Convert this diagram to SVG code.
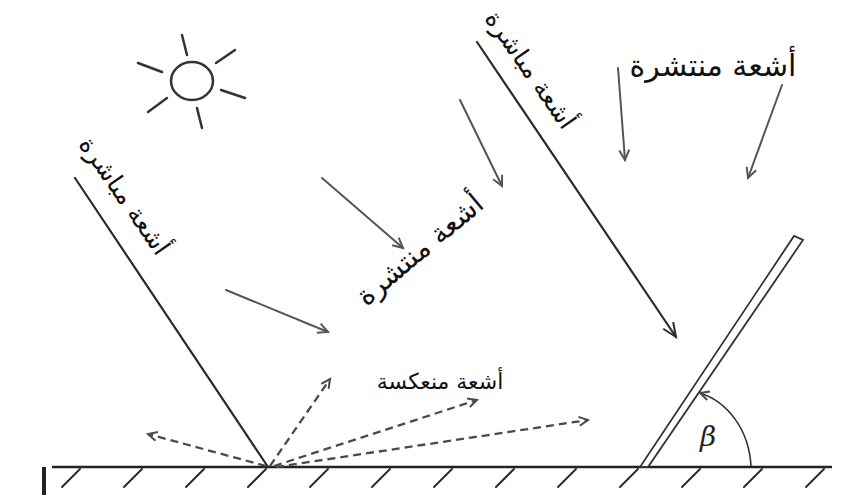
<svg xmlns="http://www.w3.org/2000/svg" width="856" height="501" viewBox="0 0 856 501">
  <style>
    .ln { stroke: #2b2b2b; stroke-width: 2.2; fill: none; stroke-linecap: round; }
    .df { stroke: #555; stroke-width: 2; fill: none; stroke-linecap: round; }
    .ds { stroke: #4a4a4a; stroke-width: 2.3; fill: none; stroke-dasharray: 8 5; }
    .hat { stroke: #2b2b2b; stroke-width: 2; stroke-linecap: round; }
    .lbl { font-family: "DejaVu Sans", "Noto Sans", sans-serif; fill: #111; text-anchor: middle; }
  </style>
  <defs>
    <marker id="arrBig" markerUnits="userSpaceOnUse" markerWidth="18" markerHeight="14" refX="15" refY="7" orient="auto">
      <path d="M1,1 L15,7 L1,13" fill="none" stroke="#2b2b2b" stroke-width="2"/>
    </marker>
    <marker id="arrMid" markerUnits="userSpaceOnUse" markerWidth="14" markerHeight="12" refX="11" refY="6" orient="auto">
      <path d="M1,1 L11,6 L1,11" fill="none" stroke="#555" stroke-width="2"/>
    </marker>
    <marker id="arrSm" markerUnits="userSpaceOnUse" markerWidth="13" markerHeight="11" refX="10" refY="5.5" orient="auto">
      <path d="M1,1 L10,5.5 L1,10" fill="none" stroke="#4a4a4a" stroke-width="2"/>
    </marker>
  </defs>
  <rect width="856" height="501" fill="#fff"/>

  <!-- sun -->
  <g id="sun" stroke="#333" stroke-width="2.5" fill="none" stroke-linecap="round">
    <ellipse cx="192" cy="81" rx="21" ry="19"/>
    <line x1="182" y1="35" x2="187" y2="55"/>
    <line x1="235" y1="50" x2="216" y2="63"/>
    <line x1="221" y1="90" x2="245" y2="98"/>
    <line x1="197" y1="108" x2="202" y2="128"/>
    <line x1="167" y1="98" x2="148" y2="112"/>
    <line x1="138" y1="63" x2="162" y2="72"/>
  </g>

  <!-- ground with hatching -->
  <g id="ground">
    <line x1="52" y1="467" x2="832" y2="467" stroke="#222" stroke-width="2.5"/>
    <line x1="44" y1="467" x2="44" y2="495" stroke="#222" stroke-width="4"/>
    <g class="hat">
      <line x1="80" y1="469" x2="62" y2="487"/>
      <line x1="142" y1="469" x2="124" y2="487"/>
      <line x1="204" y1="469" x2="186" y2="487"/>
      <line x1="266" y1="469" x2="248" y2="487"/>
      <line x1="328" y1="469" x2="310" y2="487"/>
      <line x1="390" y1="469" x2="372" y2="487"/>
      <line x1="452" y1="469" x2="434" y2="487"/>
      <line x1="514" y1="469" x2="496" y2="487"/>
      <line x1="576" y1="469" x2="558" y2="487"/>
      <line x1="638" y1="469" x2="620" y2="487"/>
      <line x1="700" y1="469" x2="682" y2="487"/>
      <line x1="762" y1="469" x2="744" y2="487"/>
      <line x1="824" y1="469" x2="806" y2="487"/>
    </g>
  </g>

  <!-- tilted collector panel -->
  <g id="panel">
    <polygon points="640,467 648,467 803,240 794,236" fill="#fff" stroke="#333" stroke-width="1.8"/>
  </g>

  <!-- tilt angle -->
  <g id="angle">
    <path d="M751,466 C749,430 728,402 700,393" fill="none" stroke="#333" stroke-width="1.6" marker-end="url(#arrSm)"/>
    <text x="708" y="446" font-family="'DejaVu Serif', 'Liberation Serif', serif" font-style="italic" font-size="28" fill="#222" text-anchor="middle">β</text>
  </g>

  <!-- rays -->
  <g id="connectors">
    <!-- direct beams -->
    <line class="ln" x1="75" y1="178" x2="268" y2="467"/>
    <line class="ln" x1="477" y1="42" x2="676" y2="337" marker-end="url(#arrBig)"/>
    <!-- diffuse -->
    <line class="df" x1="460" y1="100" x2="502" y2="186" marker-end="url(#arrMid)"/>
    <line class="df" x1="322" y1="178" x2="403" y2="248" marker-end="url(#arrMid)"/>
    <line class="df" x1="226" y1="290" x2="328" y2="332" marker-end="url(#arrMid)"/>
    <line class="df" x1="618" y1="68" x2="625" y2="160" marker-end="url(#arrMid)"/>
    <line class="df" x1="782" y1="85" x2="748" y2="178" marker-end="url(#arrMid)"/>
    <!-- reflected -->
    <line class="ds" x1="266" y1="466" x2="148" y2="434" marker-end="url(#arrSm)"/>
    <line class="ds" x1="270" y1="466" x2="330" y2="379" marker-end="url(#arrSm)"/>
    <line class="ds" x1="274" y1="466" x2="477" y2="400" marker-end="url(#arrSm)"/>
    <line class="ds" x1="276" y1="467" x2="588" y2="420" marker-end="url(#arrSm)"/>
  </g>

  <!-- labels -->
  <g id="labels">
    <text class="lbl" font-size="25" transform="translate(124,196) rotate(55)" y="8">أشعة مباشرة</text>
    <text class="lbl" font-size="25" transform="translate(530,70) rotate(55)" y="8">أشعة مباشرة</text>
    <text class="lbl" font-size="28" transform="translate(420,250) rotate(-40)" y="9">أشعة منتشرة</text>
    <text class="lbl" font-size="30" x="713" y="76">أشعة منتشرة</text>
    <text class="lbl" font-size="22" x="440" y="389">أشعة منعكسة</text>
  </g>
</svg>
